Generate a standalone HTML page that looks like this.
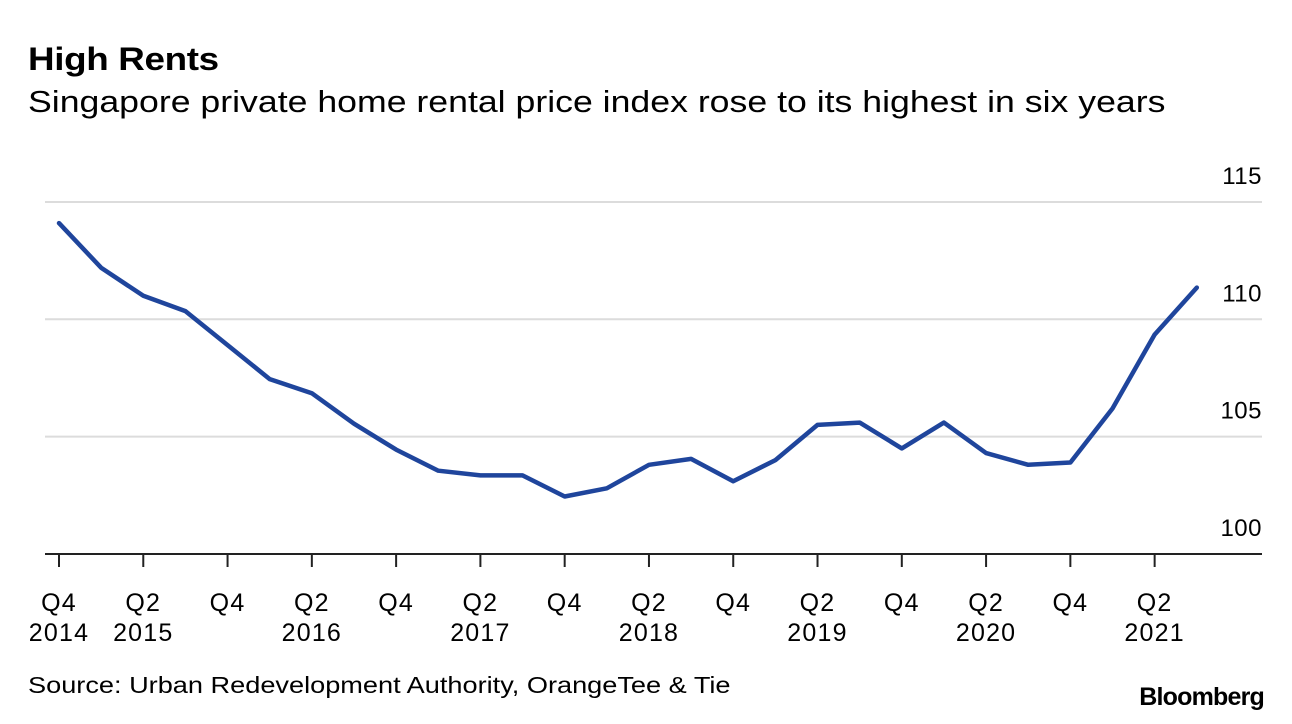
<!DOCTYPE html>
<html><head><meta charset="utf-8"><style>
body{margin:0;background:#fff;font-family:"Liberation Sans",sans-serif;}
#wrap{position:relative;width:1292px;height:724px;overflow:hidden;}
.t{position:absolute;color:#000;white-space:nowrap;transform-origin:left top;}
</style></head><body>
<div id="wrap">
<div class="t" style="left:28px;top:41px;font-size:32px;font-weight:bold;letter-spacing:-0.3px;transform:scaleX(1.15);">High Rents</div>
<div class="t" style="left:28px;top:84px;font-size:31px;transform:scaleX(1.15);">Singapore private home rental price index rose to its highest in six years</div>
<svg id="plot" width="1292" height="724" style="position:absolute;left:0;top:0"></svg>
<div class="t" style="left:28px;top:672px;font-size:23px;transform:scaleX(1.18);">Source: Urban Redevelopment Authority, OrangeTee &amp; Tie</div>
<div class="t" style="right:28px;top:683px;font-size:25px;font-weight:bold;letter-spacing:-0.8px;">Bloomberg</div>
</div>
<script>
const values=[114.1,112.2,111.0,110.35,108.9,107.45,106.85,105.55,104.45,103.55,103.35,103.35,102.45,102.8,103.8,104.05,103.1,104.0,105.5,105.6,104.5,105.6,104.3,103.8,103.9,106.2,109.35,111.35];
const yTicks=[100,105,110,115];
const xTickQuarters=[["Q4","2014"],["Q2","2015"],["Q4",""],["Q2","2016"],["Q4",""],["Q2","2017"],["Q4",""],["Q2","2018"],["Q4",""],["Q2","2019"],["Q4",""],["Q2","2020"],["Q4",""],["Q2","2021"]];
const NS="http://www.w3.org/2000/svg";
const svg=document.getElementById('plot');
const x=i=>59+i*42.14;
const y=v=>554-(v-100)*23.47;
function mk(t,a){const e=document.createElementNS(NS,t);for(const k in a)e.setAttribute(k,a[k]);svg.appendChild(e);return e;}
yTicks.forEach(v=>{
  if(v>100){const g=mk('line',{x1:45,x2:1262,y1:y(v),y2:y(v),stroke:'#dcdcdc','stroke-width':2});
  
  }
  const t=mk('text',{x:1262,y:y(v)-18,'text-anchor':'end','font-size':24,'letter-spacing':0.5,'font-family':'Liberation Sans, sans-serif'});
  t.textContent=v;
  
  
});
const base=mk('line',{x1:45,x2:1262,y1:554,y2:554,stroke:'#222','stroke-width':2});


xTickQuarters.forEach((q,j)=>{
  const xx=x(j*2);
  const tk=mk('line',{x1:xx,x2:xx,y1:554,y2:567,stroke:'#222','stroke-width':2});
  
  
  const t=mk('text',{x:xx,y:611,'text-anchor':'middle','font-size':25,'letter-spacing':1.2,'font-family':'Liberation Sans, sans-serif'});
  t.textContent=q[0];
  
  
  if(q[1]){const t2=mk('text',{x:xx,y:641,'text-anchor':'middle','font-size':25,'letter-spacing':1.2,'font-family':'Liberation Sans, sans-serif'});
  t2.textContent=q[1];
  
  }
});
const d=values.map((v,i)=>(i?'L':'M')+x(i).toFixed(1)+','+y(v).toFixed(1)).join('');
const p=mk('path',{d:d,fill:'none',stroke:'#1f459c','stroke-width':4.5,'stroke-linejoin':'round','stroke-linecap':'round'});


</script>
</body></html>
